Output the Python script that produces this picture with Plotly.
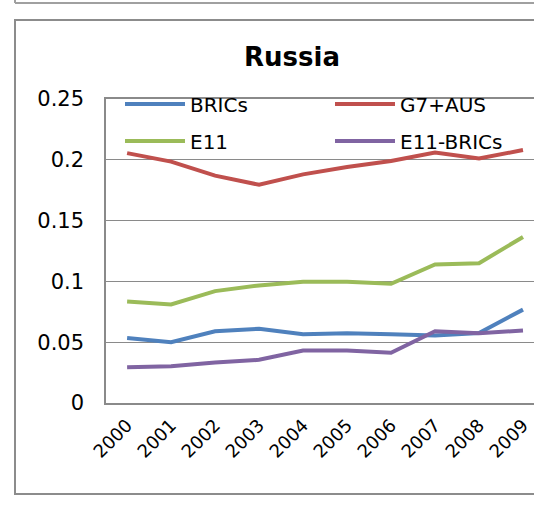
import plotly.graph_objects as go

years = ["2000", "2001", "2002", "2003", "2004", "2005", "2006", "2007", "2008", "2009"]
brics = [0.0535, 0.0500, 0.0590, 0.0610, 0.0566, 0.0574, 0.0566, 0.0555, 0.0576, 0.0768]
g7aus = [0.2055, 0.1985, 0.1870, 0.1795, 0.1880, 0.1940, 0.1990, 0.2060, 0.2010, 0.2080]
e11 = [0.0834, 0.0810, 0.0920, 0.0967, 0.0997, 0.0997, 0.0980, 0.1140, 0.1150, 0.1365]
e11_brics = [0.0295, 0.0303, 0.0333, 0.0355, 0.0432, 0.0432, 0.0413, 0.0590, 0.0574, 0.0596]

series = [
    ("BRICs", brics, "#4F81BD"),
    ("G7+AUS", g7aus, "#C0504D"),
    ("E11", e11, "#9BBB59"),
    ("E11-BRICs", e11_brics, "#8064A2"),
]

W, H = 534, 505
L, R, T, B = 106, 0, 99, 102
pw, ph = W - L - R, H - T - B

def px(x):
    return (x - L) / pw

def py(y):
    return (H - B - y) / ph

FONT = "DejaVu Sans"
legend_ids = ["legend", "legend2", "legend3", "legend4"]
legend_pos = [(120, 104), (330, 104), (120, 141), (330, 141)]

fig = go.Figure()
for (name, vals, color), lg in zip(series, legend_ids):
    fig.add_trace(go.Scatter(x=list(range(len(years))), y=vals, name=name, mode="lines",
                             line=dict(color=color, width=4), legend=lg))

legend_common = dict(orientation="h", xanchor="left", yanchor="middle",
                     bgcolor="rgba(0,0,0,0)", font=dict(family=FONT, size=20, color="#000"),
                     itemwidth=60)

layout_legends = {lg: dict(x=px(lx), y=py(ly), **legend_common)
                  for lg, (lx, ly) in zip(legend_ids, legend_pos)}

fig.update_layout(
    width=W, height=H,
    margin=dict(l=L, r=R, t=T, b=B),
    paper_bgcolor="white", plot_bgcolor="white",
    showlegend=True,
    title=dict(text="<b>Russia</b>", x=292 / W, y=1 - 57 / H, xanchor="center", yanchor="middle",
               xref="container", yref="container",
               font=dict(family=FONT, size=26, color="#000")),
    xaxis=dict(tickmode="array", tickvals=list(range(len(years))), ticktext=years,
               range=[-0.48, 9.25], tickangle=-45, showgrid=False,
               showline=True, linecolor="#8a8a8a", linewidth=1.5, mirror=True,
               ticks="", ticklabelstandoff=3,
               tickfont=dict(family=FONT, size=18, color="#000"), zeroline=False),
    yaxis=dict(range=[0, 0.25], tickvals=[0, 0.05, 0.1, 0.15, 0.2, 0.25],
               ticktext=["0", "0.05", "0.1", "0.15", "0.2", "0.25"],
               showgrid=True, gridcolor="#8a8a8a", gridwidth=1.2,
               showline=True, linecolor="#8a8a8a", linewidth=1.5,
               ticks="", ticklabelstandoff=16,
               tickfont=dict(family=FONT, size=21, color="#000"), zeroline=False),
    **layout_legends,
)

# outer chart border and bottom edge of the previous chart
fig.add_shape(type="rect", xref="paper", yref="paper",
              x0=px(15), x1=px(600), y0=py(494), y1=py(20),
              line=dict(color="#8c8c8c", width=2), fillcolor="rgba(0,0,0,0)", layer="below")
fig.add_shape(type="line", xref="paper", yref="paper",
              x0=px(15), x1=px(600), y0=py(3), y1=py(3),
              line=dict(color="#a0a0a0", width=2))
fig.add_shape(type="line", xref="paper", yref="paper",
              x0=px(15), x1=px(15), y0=py(3), y1=py(-5),
              line=dict(color="#a0a0a0", width=2))

fig.write_html("out.html", config={"displayModeBar": False},
               post_script="document.body.style.margin='0';document.body.style.overflow='hidden';")
